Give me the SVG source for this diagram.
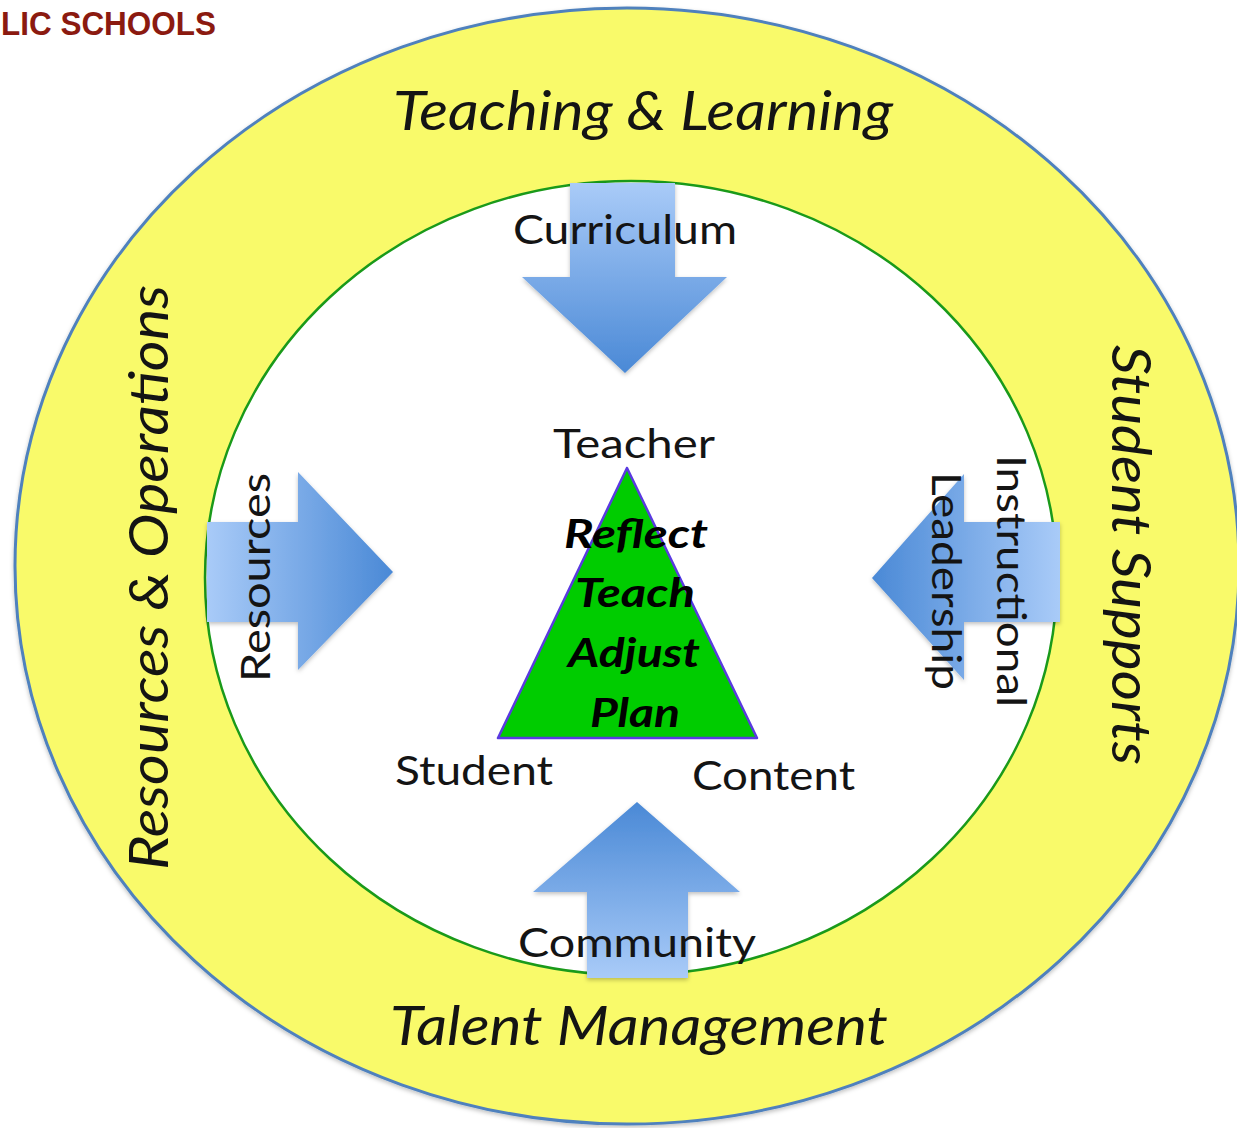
<svg xmlns="http://www.w3.org/2000/svg" width="1237" height="1128" viewBox="0 0 1237 1128">
  <style>
    .big { font-family: Lato, "Open Sans", sans-serif; font-style: italic; font-size: 54px; fill: #141414; }
    .lbl { font-family: Lato, "Open Sans", sans-serif; font-size: 40px; fill: #141414; }
    .cyc { font-family: Lato, "Open Sans", sans-serif; font-style: italic; font-weight: bold; font-size: 40px; fill: #000; text-anchor: middle; }
    .arrow { stroke: none; filter: url(#soft); }
  </style>
  <defs>
    <linearGradient id="gDown" x1="0" y1="0" x2="0" y2="1">
      <stop offset="0" stop-color="#a9cbf8"/>
      <stop offset="1" stop-color="#4a89d6"/>
    </linearGradient>
    <linearGradient id="gUp" x1="0" y1="1" x2="0" y2="0">
      <stop offset="0" stop-color="#a9cbf8"/>
      <stop offset="1" stop-color="#4a89d6"/>
    </linearGradient>
    <linearGradient id="gRight" x1="0" y1="0" x2="1" y2="0">
      <stop offset="0" stop-color="#a9cbf8"/>
      <stop offset="1" stop-color="#4a89d6"/>
    </linearGradient>
    <linearGradient id="gLeft" x1="1" y1="0" x2="0" y2="0">
      <stop offset="0" stop-color="#a9cbf8"/>
      <stop offset="1" stop-color="#4a89d6"/>
    </linearGradient>
    <filter id="soft" x="-10%" y="-10%" width="120%" height="120%">
      <feDropShadow dx="0" dy="2" stdDeviation="2" flood-color="#000" flood-opacity="0.25"/>
    </filter>
  </defs>

  <rect width="1237" height="1128" fill="#fff"/>

  <!-- header fragment -->
  <text x="1" y="35" font-family="Liberation Sans, Arial, sans-serif" font-weight="bold" font-size="33" fill="#8b1a10" textLength="215" lengthAdjust="spacingAndGlyphs">LIC SCHOOLS</text>

  <!-- outer ring -->
  <g id="outer-ring">
    <ellipse cx="627" cy="566" rx="612" ry="558" fill="#f9fa6a" stroke="#4f81bd" stroke-width="3" filter="url(#soft)"/>
  </g>

  <!-- inner circle -->
  <g id="inner-circle">
    <ellipse cx="631" cy="578" rx="426" ry="397" fill="#fff" stroke="#1a9a1a" stroke-width="2.5"/>
  </g>

  <!-- ring labels -->
  <g id="ring-top"><text class="big" x="393" y="130" textLength="500" lengthAdjust="spacingAndGlyphs">Teaching &amp; Learning</text></g>
  <g id="ring-bottom"><text class="big" x="390" y="1045" textLength="498" lengthAdjust="spacingAndGlyphs">Talent Management</text></g>
  <g id="ring-left"><text class="big" transform="translate(168,870) rotate(-90)" textLength="585" lengthAdjust="spacingAndGlyphs">Resources &amp; Operations</text></g>
  <g id="ring-right"><text class="big" transform="translate(1112,345) rotate(90)" textLength="420" lengthAdjust="spacingAndGlyphs">Student Supports</text></g>

  <!-- connectors: block arrows pointing toward the centre -->
  <g id="connectors">
    <path id="arrow-curriculum" class="arrow" fill="url(#gDown)" d="M570,183 L675,183 L675,277 L727,277 L625,373 L522,277 L570,277 Z"/>
    <path id="arrow-resources" class="arrow" fill="url(#gRight)" d="M207,522 L298,522 L298,472 L393,572 L298,670 L298,622 L207,622 Z"/>
    <path id="arrow-leadership" class="arrow" fill="url(#gLeft)" d="M1060,522 L964,522 L964,474 L872,578 L964,680 L964,622 L1060,622 Z"/>
    <path id="arrow-community" class="arrow" fill="url(#gUp)" d="M587,978 L688,978 L688,892 L740,892 L637,802 L533,892 L587,892 Z"/>
  </g>

  <!-- arrow labels -->
  <g id="label-curriculum"><text class="lbl" x="513" y="244" textLength="224" lengthAdjust="spacingAndGlyphs">Curriculum</text></g>
  <g id="label-resources"><text class="lbl" transform="translate(270,682) rotate(-90)" textLength="209" lengthAdjust="spacingAndGlyphs">Resources</text></g>
  <g id="label-instructional"><text class="lbl" transform="translate(997,455) rotate(90)" textLength="252" lengthAdjust="spacingAndGlyphs">Instructional</text></g>
  <g id="label-leadership"><text class="lbl" transform="translate(932,472) rotate(90)" textLength="218" lengthAdjust="spacingAndGlyphs">Leadership</text></g>
  <g id="label-community"><text class="lbl" x="518" y="957" textLength="238" lengthAdjust="spacingAndGlyphs">Community</text></g>

  <!-- centre triangle -->
  <g id="triangle">
    <polygon points="627,468 498,738 757,738" fill="#00cc00" stroke="#5a3ae0" stroke-width="2.5" stroke-linejoin="round"/>
    <text class="cyc" x="636" y="548" textLength="144" lengthAdjust="spacingAndGlyphs">Reflect</text>
    <text class="cyc" x="635" y="607" textLength="120" lengthAdjust="spacingAndGlyphs">Teach</text>
    <text class="cyc" x="634" y="667" textLength="132" lengthAdjust="spacingAndGlyphs">Adjust</text>
    <text class="cyc" x="635" y="727" textLength="90" lengthAdjust="spacingAndGlyphs">Plan</text>
  </g>

  <!-- triangle corner labels -->
  <g id="label-teacher"><text class="lbl" x="553" y="458" textLength="162" lengthAdjust="spacingAndGlyphs">Teacher</text></g>
  <g id="label-student"><text class="lbl" x="395" y="785" textLength="158" lengthAdjust="spacingAndGlyphs">Student</text></g>
  <g id="label-content"><text class="lbl" x="692" y="790" textLength="163" lengthAdjust="spacingAndGlyphs">Content</text></g>
</svg>
